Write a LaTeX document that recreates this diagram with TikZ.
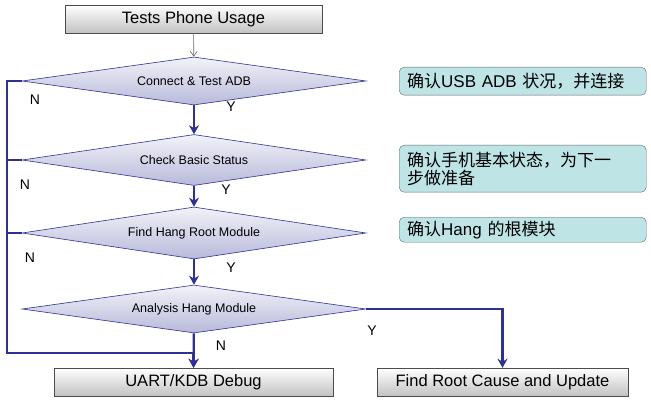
\documentclass[tikz,border=0pt]{standalone}
\usepackage{fontspec}
\setmainfont{Liberation Sans}
\newfontfamily\cjk{Noto Sans CJK SC}
\usetikzlibrary{shapes.geometric,arrows.meta,calc}
\definecolor{flowblue}{RGB}{46,49,146}
\definecolor{notefill}{RGB}{190,228,230}
\tikzset{
  procbox/.style={draw=black!70, top color=white, bottom color=black!24, minimum height=28pt, inner sep=0pt, font=\fontsize{16.5}{18}\selectfont},
  decision/.style={diamond, draw=flowblue, line width=0.6pt, top color=flowblue!6, bottom color=flowblue!34, minimum width=344pt, inner sep=0pt, aspect=12, font=\fontsize{12.5}{14}\selectfont},
  note/.style={draw=black!60, rounded corners=5pt, fill=notefill, minimum width=247pt, text width=231pt, inner xsep=8pt, inner ysep=3pt, align=left, anchor=north west, font=\cjk\fontsize{17}{18}\selectfont},
  flow/.style={draw=flowblue, line width=2.2pt, -{Stealth[length=9pt,width=10pt]}},
  flowline/.style={draw=flowblue, line width=2.2pt},
  lbl/.style={font=\fontsize{14}{16}\selectfont}
}
\begin{document}
\begin{tikzpicture}[x=1pt,y=-1pt]
\useasboundingbox (0,0) rectangle (651,401);
\node[procbox, minimum width=257pt] (start) at (193.5,19) {Tests Phone Usage};
\node[decision, minimum height=48pt] (d1) at (194,81) {Connect \& Test ADB};
\node[decision, minimum height=51pt] (d2) at (194,160) {Check Basic Status};
\node[decision, minimum height=52pt] (d3) at (194,233) {Find Hang Root Module};
\node[decision, minimum height=48pt] (d4) at (194,309) {Analysis Hang Module};
\node[procbox, minimum width=279pt] (uart) at (193.5,382) {UART/KDB Debug};
\node[procbox, minimum width=251pt] (root) at (502.5,382) {Find Root Cause and Update};

\node[note, minimum height=28pt] (n1) at (399,67) {确认{\rmfamily USB ADB} 状况，并连接};
\node[note, minimum height=47pt] (n2) at (399,145) {确认手机基本状态，为下一\\步做准备};
\node[note, minimum height=25pt] (n3) at (399,217) {确认{\rmfamily Hang} 的根模块};

\draw[black!60, line width=0.6pt, -{Straight Barb[length=5pt,width=7pt]}] (start) -- (d1);
\draw[flow] (d1) -- (d2);
\draw[flow] (d2) -- (d3);
\draw[flow] (d3) -- (d4);
\draw[flow] (d4) -- (uart);
\coordinate (c1) at (7,81);
\coordinate (cb) at (7,353);
\coordinate (cm) at (193.5,353);
\draw[flowline] (d1.west) -- (c1) -- (cb) -- (cm);
\draw[flow] (cm) -- (uart.north);
\draw[flowline] (d2.west) -- (d2.west -| c1);
\draw[flowline] (d3.west) -- (d3.west -| c1);
\draw[flow] (d4.east) -| (root.north);

\node[lbl] at (35,100) {N};
\node[lbl] at (25,185) {N};
\node[lbl] at (30,258) {N};
\node[lbl] at (221,346) {N};
\node[lbl] at (231,107) {Y};
\node[lbl] at (226,190) {Y};
\node[lbl] at (231,268) {Y};
\node[lbl] at (372,331) {Y};
\end{tikzpicture}
\end{document}
